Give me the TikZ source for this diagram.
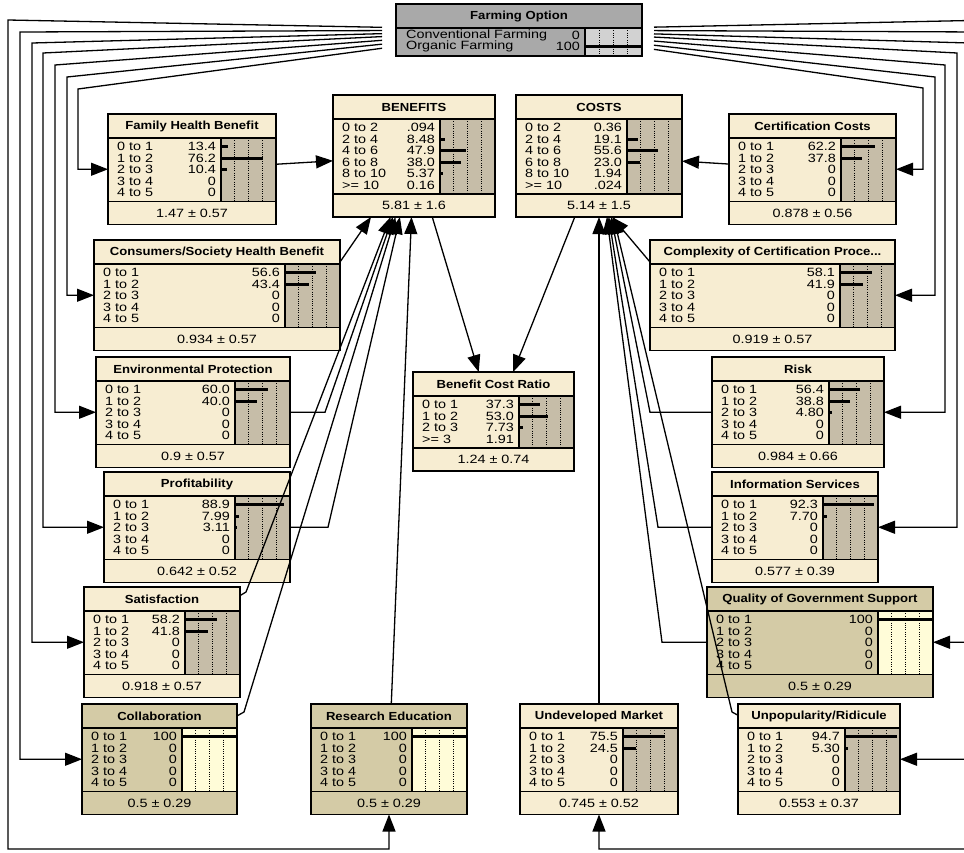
\documentclass[tikz,border=0pt]{standalone}
\usepackage{fontspec}
\setmainfont{Liberation Sans}
\newfontfamily\nf[FakeStretch=1.12]{Liberation Sans}
\newfontfamily\rf[FakeStretch=1.2]{Liberation Sans}
\usetikzlibrary{arrows.meta}
\definecolor{cream}{HTML}{F7EDD2}
\definecolor{bargray}{HTML}{C6BDA8}
\definecolor{tanc}{HTML}{D4CBA6}
\definecolor{lightyel}{HTML}{FFFCD8}
\definecolor{fogray}{HTML}{A9A9A9}
\definecolor{fobar}{HTML}{D2D2D2}
\tikzset{
  link/.style={line width=1.3pt, -{Triangle[length=17pt,width=13pt]}},
  boxline/.style={line width=1.4pt},
  sepline/.style={line width=1.2pt},
  dotl/.style={line width=1pt, dash pattern=on 1pt off 1.3pt},
  barl/.style={line width=3pt},
  lab/.style={font=\rf\fontsize{12}{12}\selectfont, inner sep=0pt},
  ttl/.style={font=\nf\bfseries\fontsize{11.7}{11.7}\selectfont, inner sep=0pt},
  frame/.style={draw, boxline, anchor=north west, inner sep=0pt, outer sep=0pt},
}
% #1 name, #2 x, #3 y, #4 width, #5 nrows, #6 title, #7 rows, #8 footer, #9 evidence flag
\newcommand{\bnode}[9]{%
 \pgfmathsetmacro\xR{#2+#4}%
 \pgfmathsetmacro\xB{\xR-55}%
 \pgfmathsetmacro\yT{#3+24}%
 \pgfmathsetmacro\yB{\yT+#5*11.5+6}%
 \pgfmathsetmacro\yE{\yB+23}%
 \pgfmathsetmacro\hh{\yE-#3}%
 \ifnum#9=1 \def\bodyc{tanc}\def\barc{lightyel}\else\def\bodyc{cream}\def\barc{bargray}\fi
 \fill[\bodyc] (#2,#3) rectangle (\xR,\yE);
 \fill[\barc] (\xB,\yT) rectangle (\xR,\yB);
 \foreach \f in {0.25,0.5,0.75} \draw[dotl] (\xB+\f*55,\yT) -- (\xB+\f*55,\yB);
 \foreach \lab/\val [count=\i from 0] in {#7} {
   \pgfmathsetmacro\yy{\yT+3+(\i+0.5)*11.5}
   \node[lab,anchor=west] at (#2+9,\yy) {\lab};
   \node[lab,anchor=east] at (\xB-5,\yy) {\val};
   \ifdim\val pt>0pt \draw[barl] (\xB,\yy) -- ++(\val*0.55,0); \fi
 }
 \draw[sepline] (#2,\yT) -- (\xR,\yT);
 \draw[sepline] (#2,\yB) -- (\xR,\yB);
 \draw[sepline] (\xB,\yT) -- (\xB,\yB);
 \node[ttl] at (#2+#4/2,#3+12) {#6};
 \node[lab] at (#2+#4/2,\yB+11.5) {#8};
 \node[frame, minimum width=#4, minimum height=\hh] (#1) at (#2,#3) {};
}
\begin{document}
\begin{tikzpicture}[x=1pt,y=-1pt]
\useasboundingbox (0,0) rectangle (964,852);
\fill[white] (0,0) rectangle (964,852);
\clip (0,0) rectangle (964,852);

% Farming Option
\fill[fogray] (396,4) rectangle (642,56);
\fill[fobar] (585,28) rectangle (642,56);
\foreach \f in {0.25,0.5,0.75} \draw[dotl] (585+\f*57,28) -- (585+\f*57,56);
\draw[barl] (585,46) -- (642,46);
\draw[sepline] (396,28) -- (642,28);
\draw[sepline] (585,28) -- (585,56);
\node[ttl] at (519,16) {Farming Option};
\node[lab,anchor=west] at (406,35) {Conventional Farming};
\node[lab,anchor=east] at (580,35) {0};
\node[lab,anchor=west] at (406,46) {Organic Farming};
\node[lab,anchor=east] at (580,46) {100};
\node[frame, minimum width=246, minimum height=52] (fo) at (396,4) {};

\bnode{fh}{108}{114}{168}{5}{Family Health Benefit}{0 to 1/13.4, 1 to 2/76.2, 2 to 3/10.4, 3 to 4/0, 4 to 5/0}{1.47 ± 0.57}{0}
\bnode{ben}{333}{95}{162}{6}{BENEFITS}{0 to 2/.094, 2 to 4/8.48, 4 to 6/47.9, 6 to 8/38.0, 8 to 10/5.37, >= 10/0.16}{5.81 ± 1.6}{0}
\bnode{cost}{516}{95}{166}{6}{COSTS}{0 to 2/0.36, 2 to 4/19.1, 4 to 6/55.6, 6 to 8/23.0, 8 to 10/1.94, >= 10/.024}{5.14 ± 1.5}{0}
\bnode{cc}{729}{114}{167}{5}{Certification Costs}{0 to 1/62.2, 1 to 2/37.8, 2 to 3/0, 3 to 4/0, 4 to 5/0}{0.878 ± 0.56}{0}
\bnode{csh}{94}{240}{246}{5}{Consumers/Society Health Benefit}{0 to 1/56.6, 1 to 2/43.4, 2 to 3/0, 3 to 4/0, 4 to 5/0}{0.934 ± 0.57}{0}
\bnode{ccp}{650}{240}{245}{5}{Complexity of Certification Proce...}{0 to 1/58.1, 1 to 2/41.9, 2 to 3/0, 3 to 4/0, 4 to 5/0}{0.919 ± 0.57}{0}
\bnode{ep}{96}{357}{194}{5}{Environmental Protection}{0 to 1/60.0, 1 to 2/40.0, 2 to 3/0, 3 to 4/0, 4 to 5/0}{0.9 ± 0.57}{0}
\bnode{bcr}{413}{372}{161}{4}{Benefit Cost Ratio}{0 to 1/37.3, 1 to 2/53.0, 2 to 3/7.73, >= 3/1.91}{1.24 ± 0.74}{0}
\bnode{risk}{712}{357}{172}{5}{Risk}{0 to 1/56.4, 1 to 2/38.8, 2 to 3/4.80, 3 to 4/0, 4 to 5/0}{0.984 ± 0.66}{0}
\bnode{prof}{104}{472}{186}{5}{Profitability}{0 to 1/88.9, 1 to 2/7.99, 2 to 3/3.11, 3 to 4/0, 4 to 5/0}{0.642 ± 0.52}{0}
\bnode{info}{712}{472}{166}{5}{Information Services}{0 to 1/92.3, 1 to 2/7.70, 2 to 3/0, 3 to 4/0, 4 to 5/0}{0.577 ± 0.39}{0}
\bnode{sat}{84}{587}{156}{5}{Satisfaction}{0 to 1/58.2, 1 to 2/41.8, 2 to 3/0, 3 to 4/0, 4 to 5/0}{0.918 ± 0.57}{0}
\bnode{qgs}{707}{587}{226}{5}{Quality of Government Support}{0 to 1/100, 1 to 2/0, 2 to 3/0, 3 to 4/0, 4 to 5/0}{0.5 ± 0.29}{1}
\bnode{col}{82}{704}{155}{5}{Collaboration}{0 to 1/100, 1 to 2/0, 2 to 3/0, 3 to 4/0, 4 to 5/0}{0.5 ± 0.29}{1}
\bnode{re}{311}{704}{156}{5}{Research Education}{0 to 1/100, 1 to 2/0, 2 to 3/0, 3 to 4/0, 4 to 5/0}{0.5 ± 0.29}{1}
\bnode{um}{520}{704}{158}{5}{Undeveloped Market}{0 to 1/75.5, 1 to 2/24.5, 2 to 3/0, 3 to 4/0, 4 to 5/0}{0.745 ± 0.52}{0}
\bnode{up}{738}{704}{162}{5}{Unpopularity/Ridicule}{0 to 1/94.7, 1 to 2/5.30, 2 to 3/0, 3 to 4/0, 4 to 5/0}{0.553 ± 0.37}{0}

% links from Farming Option, left side
\draw[link, shorten <=14pt] (fo) -- (8,20) -- (8,849) -- (re.south |- 0,849) -- (re);
\draw[link, shorten <=14pt] (fo) -- (20,32) -- (20,0 |- col) -- (col);
\draw[link, shorten <=14pt] (fo) -- (32,43) -- (32,0 |- sat) -- (sat);
\draw[link, shorten <=14pt] (fo) -- (43,53) -- (43,0 |- prof) -- (prof);
\draw[link, shorten <=14pt] (fo) -- (55,65) -- (55,0 |- ep) -- (ep);
\draw[link, shorten <=14pt] (fo) -- (67,77) -- (67,0 |- csh) -- (csh);
\draw[link, shorten <=14pt] (fo) -- (78,89) -- (78,0 |- fh) -- (fh);
% right side
\draw[link, shorten <=12pt] (fo) -- (923,88) -- (923,0 |- cc) -- (cc);
\draw[link, shorten <=12pt] (fo) -- (935,77) -- (935,0 |- ccp) -- (ccp);
\draw[link, shorten <=12pt] (fo) -- (945,65) -- (945,0 |- risk) -- (risk);
\draw[link, shorten <=12pt] (fo) -- (957,53) -- (957,0 |- info) -- (info);
\draw[link, shorten <=12pt] (fo) -- (969,43) -- (969,0 |- qgs) -- (qgs);
\draw[link, shorten <=12pt] (fo) -- (981,32) -- (981,0 |- up) -- (up);
\draw[link, shorten <=12pt] (fo) -- (993,20) -- (993,849) -- (um.south |- 0,849) -- (um);

% into BENEFITS
\draw[link] (fh) -- (ben);
\draw[link] ([yshift=-22pt]csh.north east) -- ([xshift=38pt]ben.south west);
\draw[link] (ep) -- (325,0 |- ep) -- (ben);
\draw[link] (prof) -- (328,0 |- prof) -- (ben);
\draw[link] (sat) -- (246,592) -- (ben);
\draw[link] (col) -- (244,712) -- (ben);
\draw[link] (re) -- (ben);
% into COSTS
\draw[link] (cc) -- (cost);
\draw[link] ([yshift=-22pt]ccp.north west) -- ([xshift=-70pt]cost.south east);
\draw[link] (risk) -- (650,0 |- risk) -- (cost);
\draw[link] (info) -- (658,0 |- info) -- (cost);
\draw[link] (qgs) -- (662,0 |- qgs) -- (cost);
\draw[link] (um) -- (cost);
\draw[link] (up) -- (732,712) -- (cost);
% into Benefit Cost Ratio
\draw[link] (ben) -- (bcr);
\draw[link] (cost) -- (bcr);
\end{tikzpicture}
\end{document}
